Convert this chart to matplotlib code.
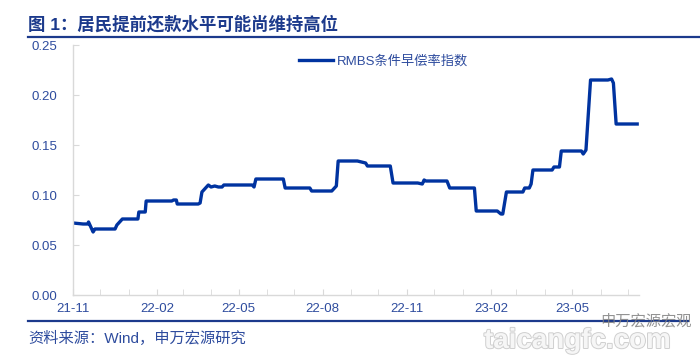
import matplotlib
matplotlib.use("Agg")
import matplotlib.pyplot as plt
import matplotlib.dates as mdates
from matplotlib.lines import Line2D
import matplotlib.patheffects as pe
import pandas as pd

plt.rcParams['font.family'] = ['Liberation Sans', 'Noto Sans CJK SC', 'DejaVu Sans']

title = "图 1：居民提前还款水平可能尚维持高位"
source = "资料来源：Wind，申万宏源研究"
series_name = "RMBS条件早偿率指数"

dates = [
    "2021-11-01", "2021-11-12", "2021-11-17", "2021-11-18", "2021-11-23", "2021-11-25",
    "2021-12-17", "2021-12-19", "2021-12-25", "2022-01-11", "2022-01-12", "2022-01-19",
    "2022-01-20", "2022-02-17", "2022-02-19", "2022-02-22", "2022-02-23", "2022-03-18",
    "2022-03-20", "2022-03-22", "2022-03-29", "2022-04-01", "2022-04-05", "2022-04-09",
    "2022-04-13", "2022-04-15", "2022-05-16", "2022-05-18", "2022-05-20", "2022-06-19",
    "2022-06-21", "2022-07-18", "2022-07-20", "2022-08-11", "2022-08-16", "2022-08-18",
    "2022-09-08", "2022-09-17", "2022-09-19", "2022-10-14", "2022-10-17", "2022-11-13",
    "2022-11-18", "2022-11-20", "2022-11-22", "2022-12-15", "2022-12-18", "2023-01-14",
    "2023-01-16", "2023-02-08", "2023-02-12", "2023-02-14", "2023-02-18", "2023-03-08",
    "2023-03-10", "2023-03-15", "2023-03-17", "2023-03-19", "2023-04-09", "2023-04-11",
    "2023-04-17", "2023-04-19", "2023-05-11", "2023-05-13", "2023-05-16", "2023-05-21",
    "2023-06-09", "2023-06-13", "2023-06-15", "2023-06-18", "2023-07-11",
]
values = [
    0.072, 0.071, 0.071, 0.073, 0.063, 0.066,
    0.066, 0.070, 0.076, 0.076, 0.083, 0.083,
    0.094, 0.094, 0.095, 0.095, 0.091, 0.091,
    0.092, 0.103, 0.110, 0.108, 0.109, 0.108,
    0.108, 0.110, 0.110, 0.108, 0.116, 0.116,
    0.107, 0.107, 0.104, 0.104, 0.109, 0.134,
    0.134, 0.132, 0.129, 0.129, 0.112, 0.112,
    0.111, 0.115, 0.114, 0.114, 0.107, 0.107,
    0.084, 0.084, 0.081, 0.081, 0.103, 0.103,
    0.107, 0.107, 0.111, 0.125, 0.125, 0.128,
    0.128, 0.144, 0.144, 0.141, 0.145, 0.215,
    0.215, 0.216, 0.212, 0.171, 0.171,
]
yticks = [0.00, 0.05, 0.10, 0.15, 0.20, 0.25]
x_start, x_end = "2021-11-01", "2023-07-13"

dt = pd.to_datetime(dates)

fig = plt.figure(figsize=(7.0, 3.64), dpi=100)
ax = fig.add_axes([73/700, 1-295/364, (639-73)/700, 250/364])

line_color = '#0033A0'
txt_color = '#2E4C9E'
title_color = '#1C3A8C'
grid_gray = '#d9d9d9'

ax.plot(dt, values, color=line_color, lw=2.4, solid_joinstyle='round', label=series_name)

ax.set_xlim(pd.Timestamp(x_start), pd.Timestamp(x_end))
ax.set_ylim(0, 0.25)
ax.set_yticks(yticks)
ax.yaxis.set_major_formatter(matplotlib.ticker.FormatStrFormatter('%.2f'))
ax.xaxis.set_major_locator(mdates.MonthLocator(bymonth=[2, 5, 8, 11]))
ax.xaxis.set_minor_locator(mdates.MonthLocator())
ax.xaxis.set_major_formatter(mdates.DateFormatter('%y-%m'))

for s in ['top', 'right']:
    ax.spines[s].set_visible(False)
for s in ['left', 'bottom']:
    ax.spines[s].set_color(grid_gray)
    ax.spines[s].set_linewidth(1.0)

ax.tick_params(axis='both', which='both', direction='in', length=4, color=grid_gray,
               labelcolor=txt_color, labelsize=9.5)
ax.tick_params(axis='x', which='major', pad=6)
ax.tick_params(axis='y', which='major', pad=11)

leg = ax.legend(loc='center left', bbox_to_anchor=((299-73)/566, (295-61.7)/250),
                frameon=False, handlelength=2.6, handletextpad=0.25,
                borderpad=0, borderaxespad=0, fontsize=9.5)
for t in leg.get_texts():
    t.set_color(txt_color)

fig.text(28/700, 1-24/364, title, fontsize=12.5, fontweight='bold', color=title_color,
         ha='left', va='center')
fig.add_artist(Line2D([28/700, 1.0], [1-37/364, 1-37/364], color=title_color, lw=1.6))
fig.add_artist(Line2D([28/700, 688/700], [1-321/364, 1-321/364], color=title_color, lw=1.6))
fig.text(28/700, 1-338/364, source, fontsize=11, color=txt_color, ha='left', va='center')

# watermarks
fig.text(600/700, 1-321/364, "申万宏源宏观", fontsize=11, color='#808080', alpha=0.85,
         ha='left', va='center')
wm = fig.text(484/700, 1-341/364, "taicangfc.com", fontsize=20, fontweight='bold',
              color='#f6f6f6', ha='left', va='center')
wm.set_path_effects([pe.Stroke(linewidth=1.4, foreground='#cfcfcf'), pe.Normal()])

fig.savefig("out.png", dpi=100)
